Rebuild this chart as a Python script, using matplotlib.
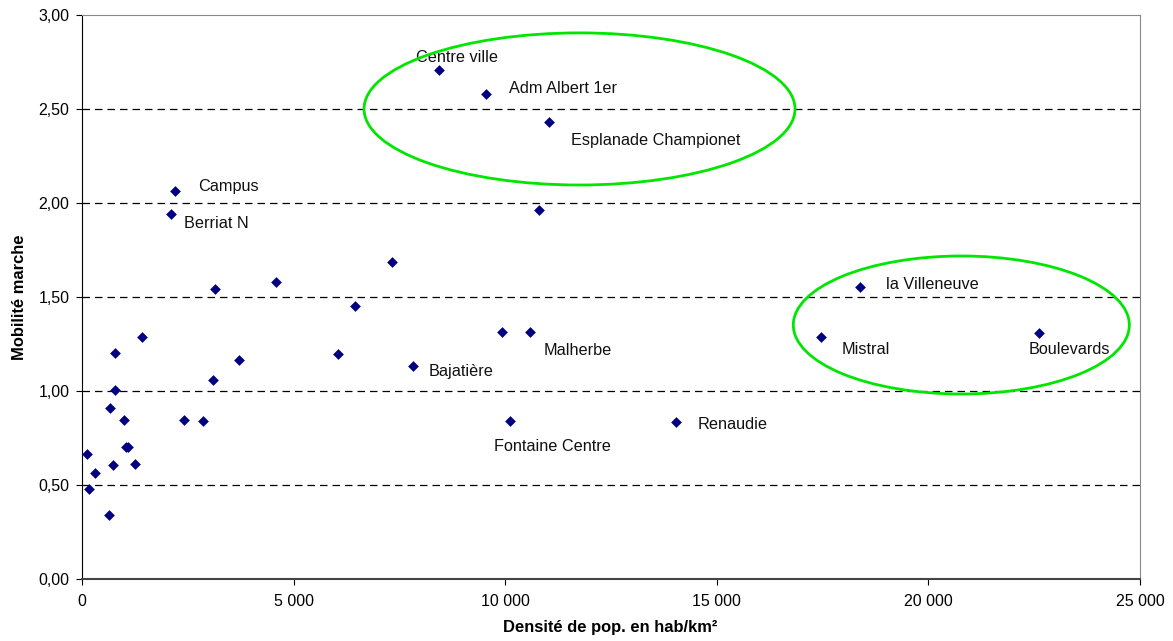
import matplotlib.pyplot as plt
from matplotlib.patches import Ellipse
from matplotlib.ticker import FuncFormatter, MultipleLocator

plt.rcParams["font.family"] = ["Liberation Sans", "DejaVu Sans"]

# densité (hab/km²) et mobilité marche par quartier
density = [
    8436, 9539, 11027, 10806, 9932, 10579, 10106, 14036, 18384, 17455, 22614,
    2205, 2096, 3143, 4591, 6444, 7325, 6049, 7821,
    1425, 787, 3710, 3088, 773, 662, 1000, 2403, 2866, 111, 1033, 1094,
    740, 1245, 314, 172, 645,
]
walking = [
    2.707, 2.581, 2.429, 1.964, 1.312, 1.312, 0.842, 0.834, 1.552, 1.286, 1.307,
    2.064, 1.943, 1.544, 1.578, 1.454, 1.688, 1.198, 1.133,
    1.286, 1.200, 1.165, 1.060, 1.004, 0.908, 0.847, 0.847, 0.839, 0.665, 0.700, 0.700,
    0.606, 0.612, 0.564, 0.480, 0.342,
]

# libellés : (nom, densité, mobilité, décalage en pixels)
labels = [
    ("Centre ville", 8436, 2.707, (-23, 13)),
    ("Adm Albert 1er", 9539, 2.581, (23, 5)),
    ("Esplanade Championet", 11027, 2.429, (22, -18)),
    ("Campus", 2205, 2.064, (23, 4)),
    ("Berriat N", 2096, 1.943, (13, -10)),
    ("Bajatière", 7821, 1.133, (16, -6)),
    ("Malherbe", 10579, 1.312, (14, -18)),
    ("Fontaine Centre", 10106, 0.842, (-16, -26)),
    ("Renaudie", 14036, 0.834, (22, -2)),
    ("la Villeneuve", 18384, 1.552, (26, 3)),
    ("Mistral", 17455, 1.286, (21, -12)),
    ("Boulevards", 22614, 1.307, (-10, -16)),
]

# groupes entourés : (centre x, centre y, largeur, hauteur)
groups = [
    (11756, 2.50, 10184, 0.809),
    (20777, 1.351, 7940, 0.734),
]

fig = plt.figure(figsize=(11.73, 6.41), dpi=100)
ax = fig.add_axes([0.0699, 0.0967, 0.902, 0.880])

ax.scatter(density, walking, marker="D", s=30, color="#000080", zorder=3, linewidths=0)

for name, x, y, (dx, dy) in labels:
    ax.annotate(name, (x, y), xytext=(dx, dy), textcoords="offset pixels",
                fontsize=11.7, va="center", ha="left", color="#111111")

for cx, cy, w, h in groups:
    ax.add_patch(Ellipse((cx, cy), w, h, fill=False, edgecolor="#00e600",
                         linewidth=2, zorder=4))

ax.set_xlim(0, 25000)
ax.set_ylim(0, 3)
ax.xaxis.set_major_locator(MultipleLocator(5000))
ax.yaxis.set_major_locator(MultipleLocator(0.5))
ax.xaxis.set_major_formatter(FuncFormatter(lambda v, p: f"{int(v):,}".replace(",", " ")))
ax.yaxis.set_major_formatter(FuncFormatter(lambda v, p: f"{v:.2f}".replace(".", ",")))

for y in [0.5, 1.0, 1.5, 2.0, 2.5]:
    ax.axhline(y, color="black", linewidth=0.9, dashes=(6, 4), zorder=1)

ax.spines["top"].set_color("#888888")
ax.spines["right"].set_color("#888888")
ax.spines["left"].set_color("black")
ax.spines["bottom"].set_color("#444444")
ax.spines["bottom"].set_linewidth(1.5)
ax.tick_params(direction="out", length=4, labelsize=11.5)
ax.tick_params(axis="x", pad=7)
ax.tick_params(axis="y", pad=5)

ax.set_xlabel("Densité de pop. en hab/km²", fontsize=11.9, fontweight="bold")
ax.set_ylabel("Mobilité marche", fontsize=11.9, fontweight="bold")
ax.xaxis.set_label_coords(0.499, -0.073)
ax.yaxis.set_label_coords(-0.0595, 0.5)
ax.yaxis.label.set_va("center")

fig.savefig("out.png", dpi=100)
